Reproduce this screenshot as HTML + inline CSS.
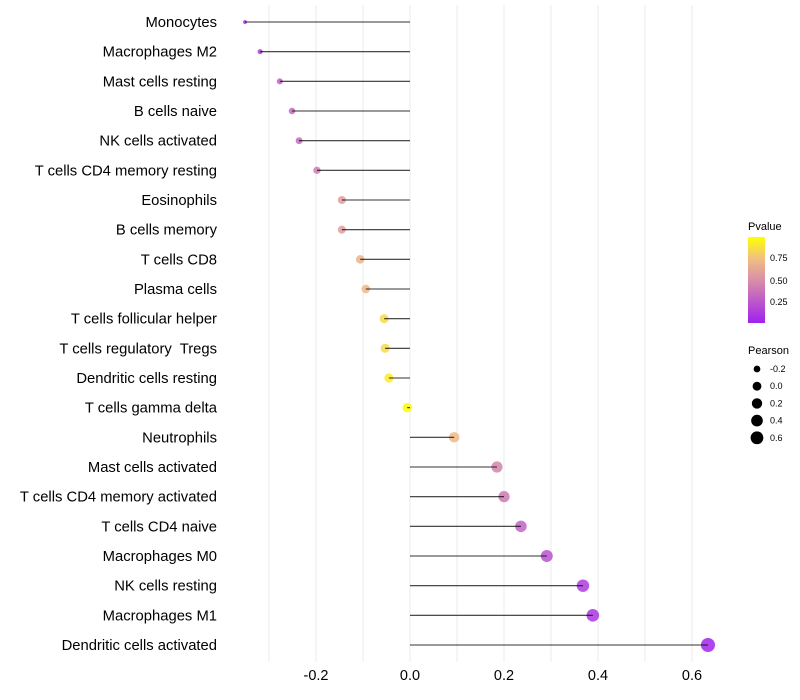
<!DOCTYPE html>
<html><head><meta charset="utf-8"><style>
body{margin:0;background:#fff;}
svg{display:block;font-family:"Liberation Sans",Arial,sans-serif;}
text{white-space:pre;}
</style></head><body>
<svg id="chart" width="800" height="700">
<defs><linearGradient id="pg" x1="0" y1="1" x2="0" y2="0">
<stop offset="0" stop-color="#a020f0"/><stop offset="0.5" stop-color="#d98fa6"/><stop offset="0.75" stop-color="#f1bf82"/><stop offset="1" stop-color="#ffff00"/>
</linearGradient></defs>
<g id="grid"></g><g id="marks"></g><g id="ylabels"></g><g id="xlabels"></g>
<g>
<text x="748" y="230" font-size="11">Pvalue</text>
<rect x="748" y="237" width="17" height="86" fill="url(#pg)"/>
<text x="770" y="261" font-size="9">0.75</text>
<text x="770" y="284" font-size="9">0.50</text>
<text x="770" y="305" font-size="9">0.25</text>
</g>
<g id="sizelegend">
<text x="748" y="354" font-size="11">Pearson</text>
</g>
</svg>
<script>
const categories=["Monocytes","Macrophages M2","Mast cells resting","B cells naive","NK cells activated","T cells CD4 memory resting","Eosinophils","B cells memory","T cells CD8","Plasma cells","T cells follicular helper","T cells regulatory  Tregs","Dendritic cells resting","T cells gamma delta","Neutrophils","Mast cells activated","T cells CD4 memory activated","T cells CD4 naive","Macrophages M0","NK cells resting","Macrophages M1","Dendritic cells activated"];
const pearson=[-0.351,-0.319,-0.277,-0.251,-0.236,-0.198,-0.145,-0.145,-0.106,-0.094,-0.055,-0.053,-0.045,-0.006,0.094,0.185,0.2,0.236,0.291,0.368,0.389,0.634];
const pvalues=[0.05,0.15,0.3,0.32,0.33,0.42,0.58,0.58,0.68,0.72,0.86,0.86,0.92,0.99,0.72,0.45,0.4,0.3,0.22,0.12,0.1,0.02];
const xTicks=[-0.2,0,0.2,0.4,0.6];
const sizeLegend=[-0.2,0,0.2,0.4,0.6];
const NS="http://www.w3.org/2000/svg";
const x=v=>410+470*v;
const y=i=>22+i*29.667;
const r=v=>Math.sqrt(32*Math.max(0,v+0.36))+1.4;
function color(p){
 const st=[[0,[160,32,240]],[0.5,[217,143,166]],[0.75,[241,191,130]],[1,[255,255,0]]];
 for(let k=1;k<st.length;k++){if(p<=st[k][0]){const a=st[k-1],b=st[k];const t=(p-a[0])/(b[0]-a[0]);return "rgb("+a[1].map((c,j)=>Math.round(c+(b[1][j]-c)*t)).join(",")+")";}}
 return "rgb(255,255,0)";
}
function mk(tag,attrs,parent){const e=document.createElementNS(NS,tag);for(const k in attrs)e.setAttribute(k,attrs[k]);document.getElementById(parent).appendChild(e);return e;}
for(let v=-0.3;v<=0.61;v+=0.1){const g=mk("line",{x1:x(v),x2:x(v),y1:5,y2:662,stroke:"#ebebeb","stroke-width":1},"grid");

}
categories.forEach((c,i)=>{
 const pt=mk("circle",{cx:x(pearson[i]),cy:y(i),r:r(pearson[i]),fill:color(pvalues[i]),"fill-opacity":0.85},"marks");
 
 
 const ln=mk("line",{x1:x(0),x2:x(pearson[i]),y1:y(i),y2:y(i),stroke:"#000","stroke-width":1.1,"stroke-opacity":0.8},"marks");
 
 
 const t=mk("text",{x:217,y:y(i)+5,"text-anchor":"end","font-size":14.8,fill:"#000"},"ylabels");
 t.textContent=c;
 
 
});
xTicks.forEach(v=>{const t=mk("text",{x:x(v),y:680,"text-anchor":"middle","font-size":14.5,fill:"#000"},"xlabels");
t.textContent=v.toFixed(1);

});
sizeLegend.forEach((v,k)=>{const yy=369+k*17.2;
const c=mk("circle",{cx:757,cy:yy,r:r(v)*0.92,fill:"#000"},"sizelegend");


const t=mk("text",{x:770,y:yy+3,"font-size":9},"sizelegend");t.textContent=v.toFixed(1);

});
</script>
</body></html>
